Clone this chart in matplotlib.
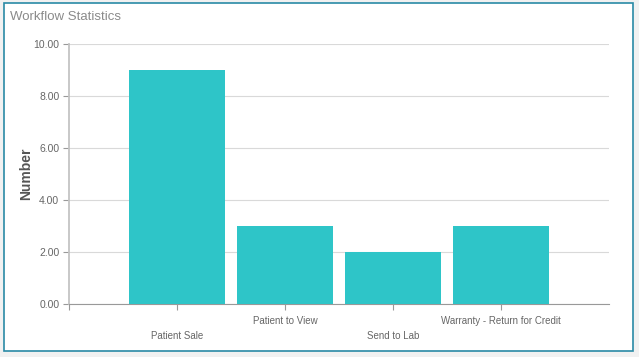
import matplotlib.pyplot as plt
from matplotlib.patches import Rectangle

# Données du graphique
categories = ["Patient Sale", "Patient to View", "Send to Lab", "Warranty - Return for Credit"]
valeurs = [9, 3, 2, 3]
yticks = [0, 2, 4, 6, 8, 10]

W, H = 639, 357
fig = plt.figure(figsize=(W / 100, H / 100), dpi=100)
fig.patch.set_facecolor("#f1f1f1")
plt.rcParams['font.family'] = ['Liberation Sans', 'DejaVu Sans']

# Cadre blanc avec bordure
fig.patches.append(Rectangle((4 / W, 1 - 351 / H), 629 / W, 348 / H, transform=fig.transFigure,
                             facecolor="white", edgecolor="#2a8aa6", linewidth=1.2, zorder=-10))

fig.text(10 / W, 1 - 17 / H, "Workflow Statistics", fontsize=9.5, color="#8a8a8a", va="center", ha="left")

ax = fig.add_axes([69 / W, 1 - 304 / H, 540 / W, 260 / H])
ax.set_zorder(5)
ax.set_facecolor("none")

x = list(range(1, len(categories) + 1))
ax.bar(x, valeurs, width=0.89, color="#2ec5c8", zorder=3)

ax.set_xlim(0, 5)
ax.set_ylim(0, 10)
ax.set_yticks(yticks)
ax.set_yticklabels([f"{v:.2f}" for v in yticks], fontsize=7.5, color="#666666")
ax.yaxis.grid(True, color="#d9d9d9", linewidth=0.8, zorder=0)

# Étiquettes en quinconce
labels = [("\n" + c) if i % 2 == 0 else c for i, c in enumerate(categories)]
ax.set_xticks([0] + x)
ax.set_xticklabels([""] + labels, fontsize=7, color="#666666", linespacing=1.6)

for s in ["top", "right"]:
    ax.spines[s].set_visible(False)
ax.spines["left"].set_color("#c4c4c4")
ax.spines["left"].set_linewidth(1.3)
ax.spines["bottom"].set_color("#999999")
ax.tick_params(axis="x", length=4, color="#999999", pad=5)
ax.tick_params(axis="y", length=4, color="#999999", pad=3)

ax.set_ylabel("Number", fontsize=10, fontweight="bold", color="#555555", labelpad=0)

fig.savefig("out.png", dpi=100, facecolor=fig.get_facecolor())
